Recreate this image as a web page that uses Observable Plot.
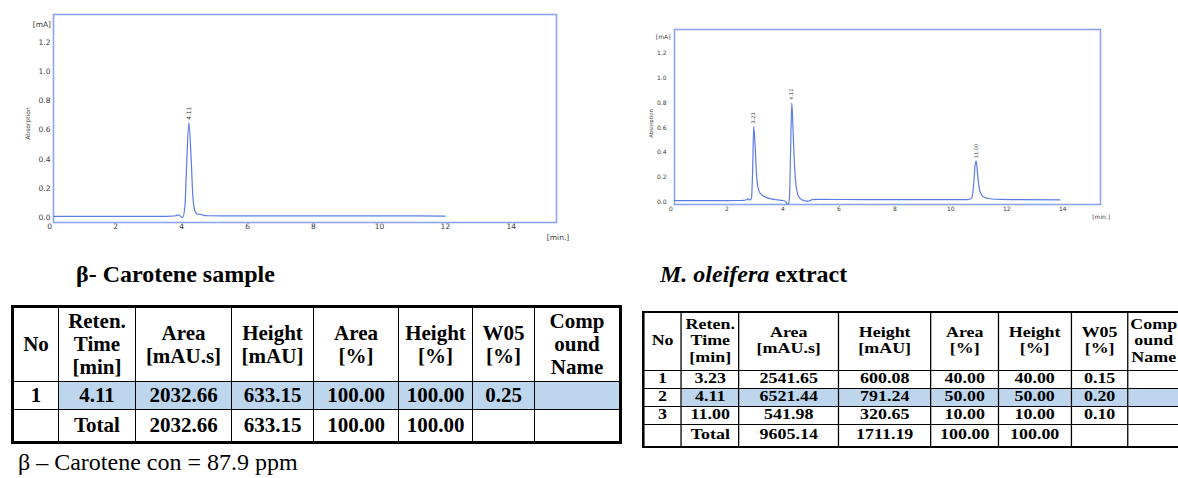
<!DOCTYPE html>
<html><head><meta charset="utf-8">
<script src="https://cdn.jsdelivr.net/npm/d3@7"></script>
<script src="https://cdn.jsdelivr.net/npm/@observablehq/plot@0.6"></script>
<style>
html,body{margin:0;padding:0;overflow:hidden;background:#fff;}
#root{position:relative;width:1178px;height:478px;overflow:hidden;background:#fff;}
.abs{position:absolute;}
.title{position:absolute;font-family:"Liberation Serif","Times New Roman",serif;font-weight:bold;font-size:24px;line-height:24px;white-space:nowrap;color:#000;}
.caption{position:absolute;font-family:"Liberation Serif","Times New Roman",serif;font-size:24px;line-height:24px;white-space:nowrap;color:#000;}
table.t{position:absolute;border-collapse:collapse;table-layout:fixed;font-family:"Liberation Serif","Times New Roman",serif;font-weight:bold;color:#000;}
table.t td{border:1px solid #000;text-align:center;vertical-align:middle;padding:0;overflow:hidden;white-space:nowrap;}
table.t td.hl{background:#bdd6ee;}
#tl{left:11px;top:305px;border:3px solid #000;font-size:21px;}
#tl td{line-height:23px;}
#tr{left:642px;top:311px;border:2px solid #000;font-size:14px;transform:scaleX(1.28);transform-origin:0 0;}
#tr td{line-height:16.5px;}
</style></head>
<body><div id="root">
<div id="c1" class="abs" style="left:0;top:0"></div>
<div id="c2" class="abs" style="left:620px;top:0"></div>
<div class="title" style="left:76px;top:262px">β- Carotene sample</div>
<div class="title" style="left:660px;top:262px"><i>M. oleifera</i> extract</div>
<table class="t" id="tl"></table>
<table class="t" id="tr"></table>
<div class="caption" style="left:18px;top:450px">β – Carotene con = 87.9 ppm</div>
</div>
<script>
// ---- chromatogram data (time [min], absorption [mA]) ----
const times1 = [0.12, 1, 2, 3, 3.7, 3.82, 3.9, 3.96, 4.03, 4.10, 4.15, 4.22, 4.29, 4.34, 4.40, 4.48, 4.57, 4.65, 4.8, 5.2, 6, 8, 10, 12];
const abs1   = [0.010, 0.010, 0.010, 0.010, 0.011, 0.014, 0.020, 0.012, 0.002, 0.080, 0.350, 0.650, 0.400, 0.150, 0.050, 0.025, 0.024, 0.018, 0.014, 0.013, 0.013, 0.013, 0.013, 0.012];
const peakTimes1 = [4.22];
const peakLabels1 = ["4.11"];

const times2 = [0.13, 1, 2, 2.6, 2.7, 2.76, 2.82, 2.88, 2.92, 2.96, 3.01, 3.06, 3.12, 3.2, 3.3, 3.45, 3.7, 3.95, 4.08, 4.15, 4.2, 4.24, 4.28, 4.32, 4.37, 4.42, 4.48, 4.55, 4.65, 4.78, 4.9, 5.05, 5.3, 7, 9, 10.5, 10.68, 10.76, 10.82, 10.87, 10.91, 10.96, 11.02, 11.1, 11.2, 11.4, 11.8, 12.5, 13.9];
const abs2   = [0.013, 0.013, 0.013, 0.014, 0.020, 0.026, 0.018, 0.030, 0.250, 0.610, 0.450, 0.220, 0.110, 0.070, 0.050, 0.035, 0.022, 0.015, 0.008, -0.010, -0.015, 0.050, 0.450, 0.800, 0.550, 0.280, 0.120, 0.050, 0.025, 0.012, 0.008, 0.020, 0.022, 0.021, 0.020, 0.020, 0.024, 0.040, 0.150, 0.300, 0.330, 0.220, 0.110, 0.060, 0.040, 0.028, 0.022, 0.020, 0.018];
const peakTimes2 = [2.96, 4.32, 10.91];
const peakLabels2 = ["3.23", "4.11", "11.00"];

const xTicks = [0, 2, 4, 6, 8, 10, 12, 14];
const yTicks = [0, 0.2, 0.4, 0.6, 0.8, 1.0, 1.2];

// ---- table data ----
const headers = [["No"], ["Reten.", "Time", "[min]"], ["Area", "[mAU.s]"], ["Height", "[mAU]"], ["Area", "[%]"], ["Height", "[%]"], ["W05", "[%]"], ["Comp", "ound", "Name"]];
const rows1 = [["1", "4.11", "2032.66", "633.15", "100.00", "100.00", "0.25", ""]];
const total1 = ["", "Total", "2032.66", "633.15", "100.00", "100.00", "", ""];
const highlight1 = 0;
const rows2 = [
  ["1", "3.23", "2541.65", "600.08", "40.00", "40.00", "0.15", ""],
  ["2", "4.11", "6521.44", "791.24", "50.00", "50.00", "0.20", ""],
  ["3", "11.00", "541.98", "320.65", "10.00", "10.00", "0.10", ""]
];
const total2 = ["", "Total", "9605.14", "1711.19", "100.00", "100.00", "", ""];
const highlight2 = 1;

const frameColor = "#8ea4f0";
const lineColor = "#5a7ce6";

function chrom(times, abs, peakTimes, peakLabels, o) {
  const data = times.map((t, i) => ({t, a: abs[i]}));
  const peaks = peakTimes.map((t, i) => ({t, a: abs[times.indexOf(t)], label: peakLabels[i]}));
  return Plot.plot({
    width: o.width, height: o.height,
    marginLeft: o.ml, marginRight: o.mr, marginTop: o.mt, marginBottom: o.mb,
    style: {fontFamily: "DejaVu Sans, Verdana, sans-serif", fontSize: o.fs + "px", color: "#3a3a3a", background: "transparent"},
    x: {domain: o.xd, ticks: xTicks, tickSize: 0, tickPadding: o.xp, label: null, tickFormat: d => String(d)},
    y: {domain: o.yd, ticks: yTicks, tickSize: 0, tickPadding: o.yp, label: null, tickFormat: d => d.toFixed(1)},
    marks: [
      Plot.frame({stroke: frameColor, strokeWidth: 1.6}),
      Plot.line(data, {x: "t", y: "a", stroke: lineColor, strokeWidth: 1.2, curve: "monotone-x"}),
      Plot.text(peaks, {x: "t", y: "a", text: "label", rotate: -90, textAnchor: "start", lineAnchor: "middle", dy: -3, fontSize: o.pfs, fill: "#333"}),
      Plot.text(["[mA]"], {frameAnchor: "top-left", textAnchor: "end", lineAnchor: "middle", dx: o.maDx, dy: o.maDy, fontSize: o.fs, fill: "#3a3a3a"}),
      Plot.text(["Absorption"], {frameAnchor: "left", rotate: -90, textAnchor: "middle", lineAnchor: "middle", dx: o.abDx, dy: o.abDy, fontSize: o.afs, fill: "#3a3a3a"}),
      Plot.text(["[min.]"], {frameAnchor: "bottom-right", textAnchor: "middle", lineAnchor: "middle", dx: o.miDx, dy: o.miDy, fontSize: o.fs, fill: "#3a3a3a"})
    ]
  });
}

document.getElementById("c1").append(chrom(times1, abs1, peakTimes1, peakLabels1, {
  width: 600, height: 250, ml: 53, mr: 44, mt: 14, mb: 28,
  xd: [0.114, 15.37], yd: [-0.032, 1.39], xp: 1, yp: 3, fs: 7.5, pfs: 5.8, afs: 6,
  maDx: -2.5, maDy: 10.3, abDx: -25, abDy: 5, miDx: 1.5, miDy: 15
}));
document.getElementById("c2").append(chrom(times2, abs2, peakTimes2, peakLabels2, {
  width: 558, height: 230, ml: 54, mr: 78, mt: 29, mb: 26,
  xd: [0.129, 15.35], yd: [-0.0185, 1.39], xp: 2, yp: 8, fs: 6, pfs: 5, afs: 5.3,
  maDx: -4, maDy: 8, abDx: -23, abDy: 6.5, miDx: 0.7, miDy: 13
}));

function buildTable(el, rows, total, hlIndex, colWidths, headH, rowH, totalH) {
  const colgroup = "<colgroup>" + colWidths.map(w => `<col style="width:${w}px">`).join("") + "</colgroup>";
  const head = `<tr style="height:${headH}px">` + headers.map(h => `<td>${h.join("<br>")}</td>`).join("") + "</tr>";
  const body = rows.map((r, i) => `<tr style="height:${rowH}px">` + r.map((c, j) => `<td class="${i === hlIndex && j > 0 ? "hl" : ""}">${c}</td>`).join("") + "</tr>").join("");
  const tot = `<tr style="height:${totalH}px">` + total.map(c => `<td>${c}</td>`).join("") + "</tr>";
  el.style.width = colWidths.reduce((a, b) => a + b, 0) + "px";
  el.innerHTML = colgroup + head + body + tot;
}
buildTable(document.getElementById("tl"), rows1, total1, highlight1, [46, 77, 96, 82, 85, 74, 62, 86], 75, 28, 33);
buildTable(document.getElementById("tr"), rows2, total2, highlight2, [29.7, 45.3, 77.3, 72.7, 52.3, 57, 44.5, 40.6], 58, 18, 23);
</script>
</body></html>
